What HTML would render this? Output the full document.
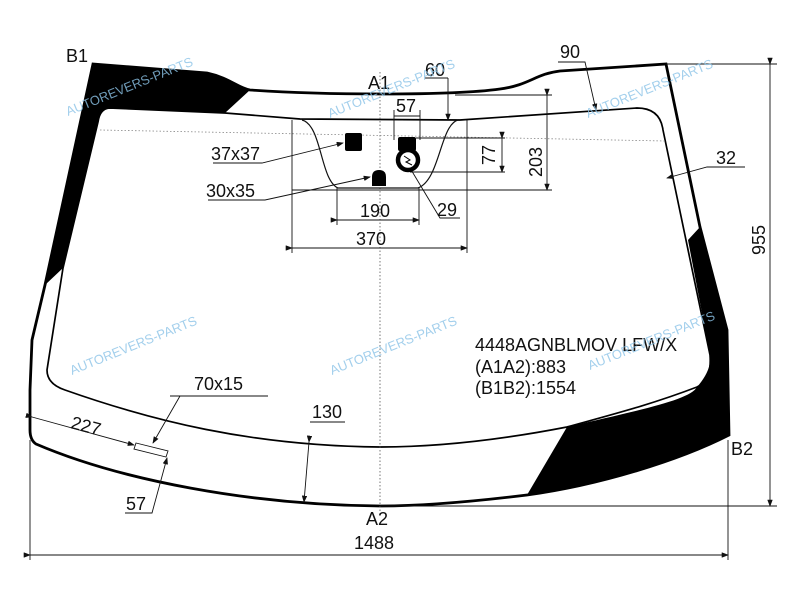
<!DOCTYPE html>
<html><head><style>body{margin:0;background:#fff}svg{display:block}text{font-family:"Liberation Sans","DejaVu Sans",sans-serif;fill:#111}</style></head><body>
<svg width="800" height="600" viewBox="0 0 800 600" xmlns="http://www.w3.org/2000/svg">
<defs><marker id="a" markerWidth="8" markerHeight="6" refX="7" refY="3" orient="auto"><path d="M0,0L8,3L0,6z" fill="#111"/></marker></defs>
<path d="M93,64 L207,73 C230,78 238,88 250,90 L225,113 L110,108 Q100,110 98,122 L63,268 L45,285 Z" fill="#000"/>
<path d="M700,227 L727,330 L729,435 C680,460 600,485 527,495 L567,427 C640,410 690,400 697,387 Q712,370 710,355 L688,240 Z" fill="#000"/>
<path d="M93,64 L207,73 C230,78 238,88 250,90 C320,95 450,96 500,89 C530,85 535,74 560,71 L666,64 L700,227 L727,330 L729,435 C680,460 600,485 527,495 C470,502 420,506 380,506 C250,505 120,480 36,444 Q30,440 30,430 L30,390 L32,340 L45,285 Z" fill="none" stroke="#000" stroke-width="2.8"/>
<path d="M110,108 L225,113 L300,119 L460,120 L637,108 Q660,108 663,130 L710,355 Q712,380 697,387 C650,405 610,415 567,427 C500,440 440,447 380,447 C250,446 150,420 65,390 Q47,384 47,370 L63,268 L98,122 Q100,108 110,108 Z" fill="none" stroke="#000" stroke-width="1.7"/>
<line x1="380" y1="72" x2="380" y2="515" stroke="#555" stroke-width="0.8" stroke-dasharray="1.5,2"/>
<line x1="100" y1="130" x2="665" y2="141" stroke="#888" stroke-width="0.8" stroke-dasharray="1.5,2"/>
<g stroke="#111" stroke-width="0.9" fill="none">
<line x1="292" y1="120" x2="292" y2="253"/><line x1="467" y1="120" x2="467" y2="253"/>
<line x1="292" y1="190" x2="552" y2="190"/>
<path d="M302,120 C322,125 320,180 338,188 L418,188 C440,180 440,125 458,120" stroke-width="1.2"/>
<line x1="337" y1="188" x2="337" y2="225"/><line x1="419" y1="188" x2="419" y2="225"/>
<line x1="337" y1="220" x2="419" y2="220" marker-end="url(#a)" marker-start="url(#a)"/>
<line x1="292" y1="248" x2="467" y2="248" marker-end="url(#a)" marker-start="url(#a)"/>
<line x1="394" y1="110" x2="394" y2="140"/><line x1="420" y1="110" x2="420" y2="140"/>
<line x1="394" y1="116" x2="420" y2="116"/>
<line x1="425" y1="78" x2="448" y2="78"/><line x1="448" y1="78" x2="448" y2="120" marker-end="url(#a)"/>
<line x1="455" y1="95" x2="552" y2="95"/>
<line x1="547" y1="95" x2="547" y2="190" marker-end="url(#a)" marker-start="url(#a)"/>
<line x1="410" y1="172" x2="505" y2="172"/><line x1="416" y1="138" x2="505" y2="138"/>
<line x1="502" y1="138" x2="502" y2="172" marker-end="url(#a)" marker-start="url(#a)"/>
<polyline points="410,168 440,218 460,218"/>
<polyline points="213,163 262,163 343,143" marker-end="url(#a)"/>
<polyline points="208,200 265,200 370,177" marker-end="url(#a)"/>
<polyline points="558,62 585,62 596,110" marker-end="url(#a)"/>
<polyline points="745,167 707,167 667,178" marker-end="url(#a)"/>
<line x1="666" y1="64" x2="777" y2="64"/><line x1="380" y1="506" x2="777" y2="506"/>
<line x1="770" y1="64" x2="770" y2="506" marker-end="url(#a)" marker-start="url(#a)"/>
<line x1="30" y1="440" x2="30" y2="560"/><line x1="728" y1="440" x2="728" y2="560"/>
<line x1="30" y1="555" x2="728" y2="555" marker-end="url(#a)" marker-start="url(#a)"/>
<line x1="170" y1="396" x2="268" y2="396"/><line x1="180" y1="396" x2="153" y2="443" marker-end="url(#a)"/>
<line x1="32" y1="417" x2="134" y2="445" marker-end="url(#a)" marker-start="url(#a)"/>
<polyline points="125,513 152,513 167,458" marker-end="url(#a)"/>
<line x1="310" y1="422" x2="345" y2="422"/>
<line x1="309" y1="442" x2="304" y2="502" marker-end="url(#a)" marker-start="url(#a)"/>
<path d="M136,443 L168,451 L166,457 L134,449 Z" fill="#fff"/>
</g>
<rect x="345" y="133" width="17" height="18" rx="2" fill="#000"/>
<path d="M372,186 L372,177 Q372,170 379,170 Q386,170 386,177 L386,186 Z" fill="#000"/>
<rect x="398" y="137" width="18" height="14" rx="2" fill="#000"/>
<circle cx="408" cy="160" r="10" fill="#fff" stroke="#000" stroke-width="4.5"/>
<path d="M404,156 L410,160 L406,162 L412,165" stroke="#000" fill="none" stroke-width="1"/>
<g font-size="18">
<text x="66" y="62">B1</text><text x="368" y="89">A1</text><text x="425" y="76">60</text>
<text x="396" y="112">57</text><text x="560" y="58">90</text><text x="716" y="164">32</text>
<text x="211" y="160">37x37</text><text x="206" y="197">30x35</text>
<text x="360" y="217">190</text><text x="437" y="216">29</text><text x="356" y="245">370</text>
<text transform="translate(542,162) rotate(-90)" text-anchor="middle">203</text>
<text transform="translate(495,155) rotate(-90)" text-anchor="middle">77</text>
<text transform="translate(765,240) rotate(-90)" text-anchor="middle">955</text>
<text x="475" y="351">4448AGNBLMOV LFW/X</text>
<text x="475" y="373">(A1A2):883</text>
<text x="475" y="394">(B1B2):1554</text>
<text x="194" y="390">70x15</text><text x="312" y="418">130</text>
<text transform="translate(70,428) rotate(15)">227</text>
<text x="126" y="510">57</text><text x="366" y="525">A2</text><text x="354" y="549">1488</text>
<text x="731" y="455">B2</text>
</g>
<g font-size="13" opacity="0.8">
<text transform="translate(68,116) rotate(-22)" style="fill:#8cc4e8">AUTOREVERS-PARTS</text>
<text transform="translate(330,118) rotate(-22)" style="fill:#8cc4e8">AUTOREVERS-PARTS</text>
<text transform="translate(588,118) rotate(-22)" style="fill:#8cc4e8">AUTOREVERS-PARTS</text>
<text transform="translate(72,375) rotate(-22)" style="fill:#8cc4e8">AUTOREVERS-PARTS</text>
<text transform="translate(332,375) rotate(-22)" style="fill:#8cc4e8">AUTOREVERS-PARTS</text>
<text transform="translate(590,370) rotate(-22)" style="fill:#8cc4e8">AUTOREVERS-PARTS</text>
</g>
</svg>
</body></html>
